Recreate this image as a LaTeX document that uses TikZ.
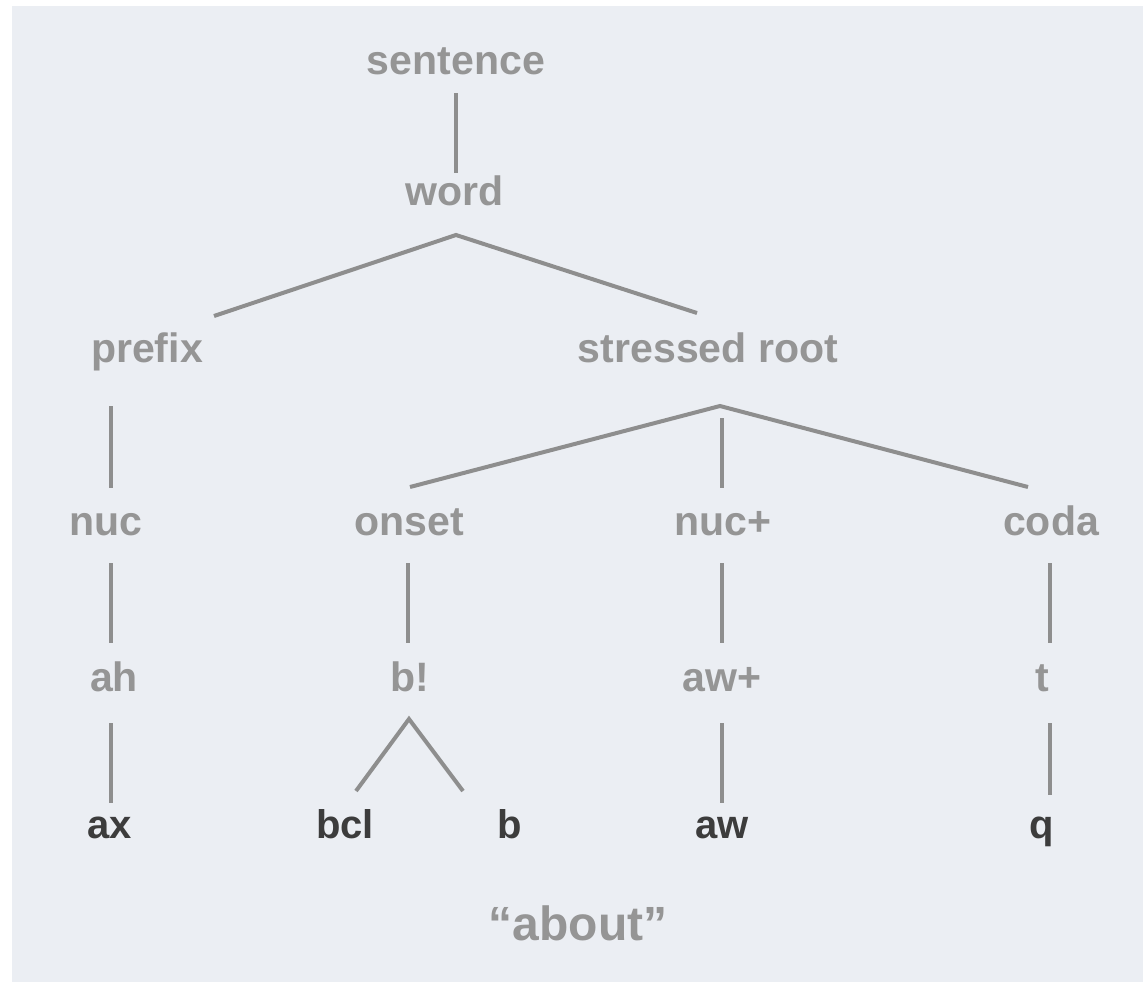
\documentclass[tikz,border=0pt]{standalone}
\usepackage{fontspec}
\setmainfont{Liberation Sans}
\usepackage{xcolor}
\usetikzlibrary{calc}

\definecolor{bggray}{HTML}{EBEEF3}
\definecolor{labelgray}{HTML}{959595}
\definecolor{linegray}{HTML}{8E8E8E}
\definecolor{leafgray}{HTML}{3C3C3C}

\tikzset{
  lbl/.style={anchor=base, inner sep=0pt, text=labelgray,
    font=\fontsize{30.8}{36}\selectfont\bfseries},
  leaf/.style={lbl, text=leafgray, font=\fontsize{30}{36}\selectfont\bfseries},
  edge/.style={draw=linegray, line width=3pt, line join=miter}
}

\begin{document}
\begin{tikzpicture}[x=0.75pt, y=-0.75pt]
\useasboundingbox (0,0) rectangle (1143,982);
\fill[bggray] (12,6) rectangle (1143,982);

% upper levels
\node[lbl] (sentence) at (456,74) {sentence};
\node[lbl] (word) at (455,205) {word};
\node[lbl] (prefix) at (147,362) {prefix};
\node[lbl] (root) at (708,362) {stressed root};

% syllable parts
\node[lbl] (nuc) at (106,535) {nuc};
\node[lbl] (onset) at (409,535) {onset};
\node[lbl] (nucp) at (723,535) {nuc+};
\node[lbl] (coda) at (1051,535) {coda};

% phonemes
\node[lbl] (ah) at (114,691) {ah};
\node[lbl] (bx) at (410,691) {b!};
\node[lbl] (awp) at (722,691) {aw+};
\node[lbl] (t) at (1042,691) {t};

% phones
\node[leaf] (ax) at (110,838) {ax};
\node[leaf] (bcl) at (345,838) {bcl};
\node[leaf] (b) at (510,838) {b};
\node[leaf] (aw) at (722,838) {aw};
\node[leaf] (q) at (1042,838) {q};

\node[lbl, font=\fontsize{36}{42}\selectfont\bfseries] (about) at (578,940) {“about”};

% tree lines
\draw[edge] ($(sentence.base)+(0,19)$) -- ($(word.base)+(1,-32)$);
\draw[edge] ($(prefix.base)+(67,-46)$) -- ($(word.base)+(1,30)$) -- ($(root.base)+(-11,-49)$);
\draw[edge] ($(prefix.base)+(-36,44)$) -- ($(nuc.base)+(5,-47)$);
\draw[edge] ($(onset.base)+(1,-48)$) -- ($(root.base)+(12,44)$) -- ($(coda.base)+(-23,-48)$);
\draw[edge] ($(root.base)+(14,56)$) -- ($(nucp.base)+(-1,-47)$);

\draw[edge] ($(nuc.base)+(5,28)$) -- ($(ah.base)+(-3,-48)$);
\draw[edge] ($(onset.base)+(-1,28)$) -- ($(bx.base)+(-2,-48)$);
\draw[edge] ($(nucp.base)+(-1,28)$) -- ($(awp.base)+(0,-48)$);
\draw[edge] ($(coda.base)+(-1,28)$) -- ($(t.base)+(8,-48)$);

\draw[edge] ($(ah.base)+(-3,32)$) -- ($(ax.base)+(1,-35)$);
\draw[edge] ($(bcl.base)+(11,-47)$) -- ($(bx.base)+(-1,28)$) -- ($(b.base)+(-47,-47)$);
\draw[edge] ($(awp.base)+(0,32)$) -- ($(aw.base)+(0,-35)$);
\draw[edge] ($(t.base)+(8,32)$) -- ($(q.base)+(8,-43)$);
\end{tikzpicture}
\end{document}
